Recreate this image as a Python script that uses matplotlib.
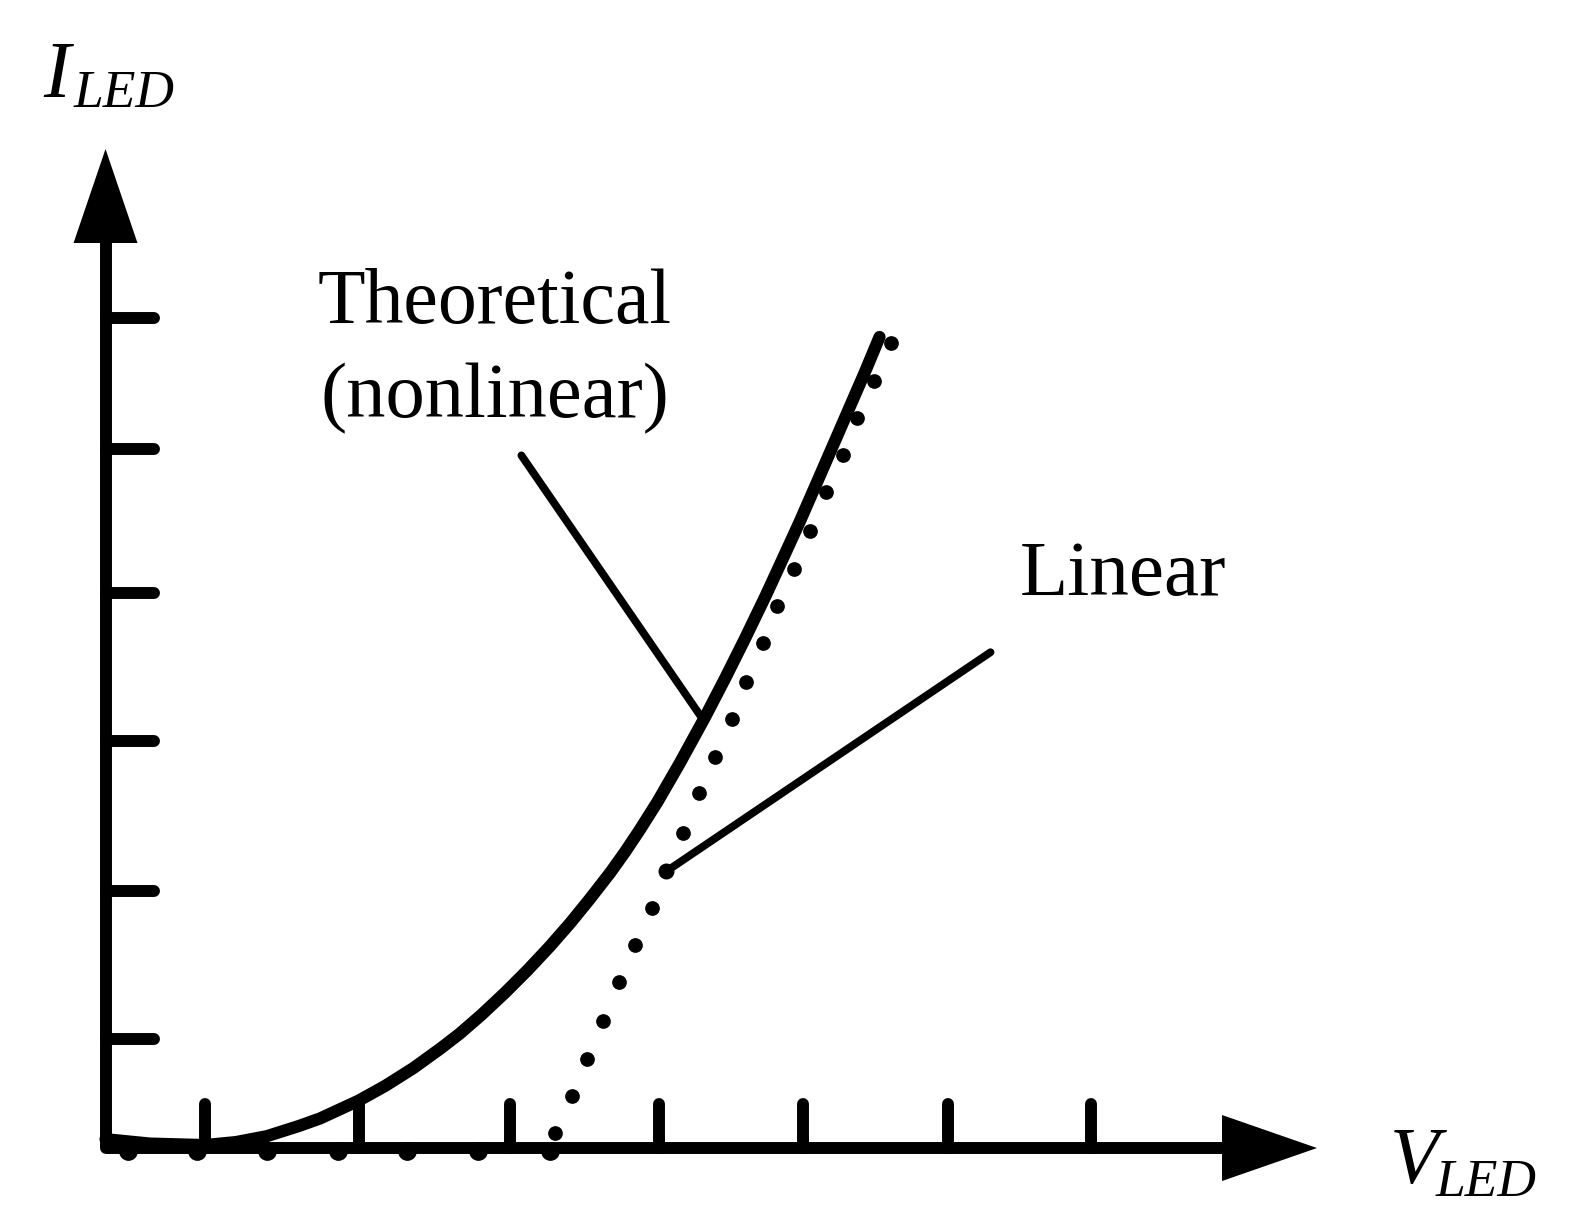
import numpy as np
import matplotlib.pyplot as plt

# data, in arbitrary units (origin at the axes corner)
curve_v = [0.00, 0.30, 0.67, 0.88, 1.09, 1.31, 1.45, 1.71, 1.89, 2.08, 2.26,
           2.39, 2.54, 2.70, 2.85, 3.00, 3.14, 3.27, 3.41, 3.51, 3.61, 3.73,
           3.88, 4.05, 4.19, 4.32, 4.46, 4.58, 4.69, 4.83, 4.93, 5.03, 5.13,
           5.23]
curve_i = [0.06, 0.03, 0.02, 0.04, 0.08, 0.15, 0.20, 0.32, 0.42, 0.54, 0.67,
           0.77, 0.90, 1.05, 1.20, 1.36, 1.52, 1.68, 1.86, 2.00, 2.15, 2.34,
           2.60, 2.91, 3.18, 3.44, 3.73, 3.99, 4.23, 4.55, 4.78, 5.01, 5.24,
           5.48]

# linear model dots: the flat part along the axis, then the rising part
floor_v = [0.15, 0.62, 1.09, 1.57, 2.04, 2.52, 3.00]
floor_i = [-0.02, -0.02, -0.02, -0.02, -0.02, -0.02, -0.02]
rise_v = [3.04, 3.15, 3.25, 3.36, 3.47, 3.58, 3.69, 3.79, 3.90, 4.01, 4.12,
          4.23, 4.33, 4.44, 4.54, 4.65, 4.76, 4.87, 4.98, 5.08, 5.19, 5.31]
rise_i = [0.10, 0.35, 0.60, 0.86, 1.12, 1.37, 1.62, 1.87, 2.13, 2.40, 2.64,
          2.90, 3.15, 3.41, 3.66, 3.91, 4.17, 4.43, 4.68, 4.93, 5.18, 5.44]

v_ticks = [0.67, 1.71, 2.73, 3.74, 4.71, 5.69, 6.66]
i_ticks = [0.74, 1.74, 2.75, 3.75, 4.72, 5.61]

# leader lines: (v_start, v_end), (i_start, i_end)
theo_lead = ([2.81, 4.02], [4.68, 2.92])
lin_lead = ([5.98, 3.79], [3.35, 1.87])

plt.rcParams['font.family'] = ['Liberation Serif', 'DejaVu Serif']

fig = plt.figure(figsize=(15.76, 12.09), dpi=100)
ax = fig.add_axes([0, 0, 1, 1])
ax.set_xlim(-0.713, 9.936)
ax.set_ylim(-0.412, 7.757)
ax.axis('off')

k = 'black'
lw_axis = 8.6

# axes with arrows
ax.plot([0, 0, 7.55], [6.12, 0, 0], color=k, lw=lw_axis,
        solid_joinstyle='round', solid_capstyle='butt')
ax.fill([7.544, 8.186, 7.544], [0.223, 0, -0.223], color=k, lw=0)
ax.fill([-0.216, 0, 0.216], [6.115, 6.75, 6.115], color=k, lw=0)

for t in v_ticks:
    ax.plot([t, t], [0, 0.30], color=k, lw=lw_axis, solid_capstyle='round')
for t in i_ticks:
    ax.plot([0, 0.33], [t, t], color=k, lw=lw_axis, solid_capstyle='round')

# curves
ax.plot(curve_v, curve_i, color=k, lw=8.8, solid_capstyle='round',
        solid_joinstyle='round')
ax.plot(floor_v, floor_i, 'o', color=k, ms=13.5, mew=0)
ax.plot(rise_v, rise_i, 'o', color=k, ms=10.6, mew=0)

# leader lines
ax.plot(*theo_lead, color=k, lw=5.6, solid_capstyle='round')
ax.plot(*lin_lead, color=k, lw=5.6, solid_capstyle='round')
ax.plot(lin_lead[0][1], lin_lead[1][1], 'o', color=k, ms=11.5, mew=0)

W, H = 1576, 1209
def px(x, y):
    return x / W, 1 - y / H

fig.text(*px(318, 323), 'Theoretical', fontsize=56, va='baseline', ha='left')
fig.text(*px(321, 417), '(nonlinear)', fontsize=56.5, va='baseline', ha='left')
fig.text(*px(1020, 595), 'Linear', fontsize=57, va='baseline', ha='left')

fig.text(*px(43, 97), 'I', fontsize=58, style='italic', va='baseline')
fig.text(*px(74, 107), 'LED', fontsize=38.5, style='italic', va='baseline')
fig.text(*px(1390, 1183), 'V', fontsize=58, style='italic', va='baseline')
fig.text(*px(1436, 1196), 'LED', fontsize=38.5, style='italic', va='baseline')

fig.savefig('out.png', dpi=100, facecolor='white')
